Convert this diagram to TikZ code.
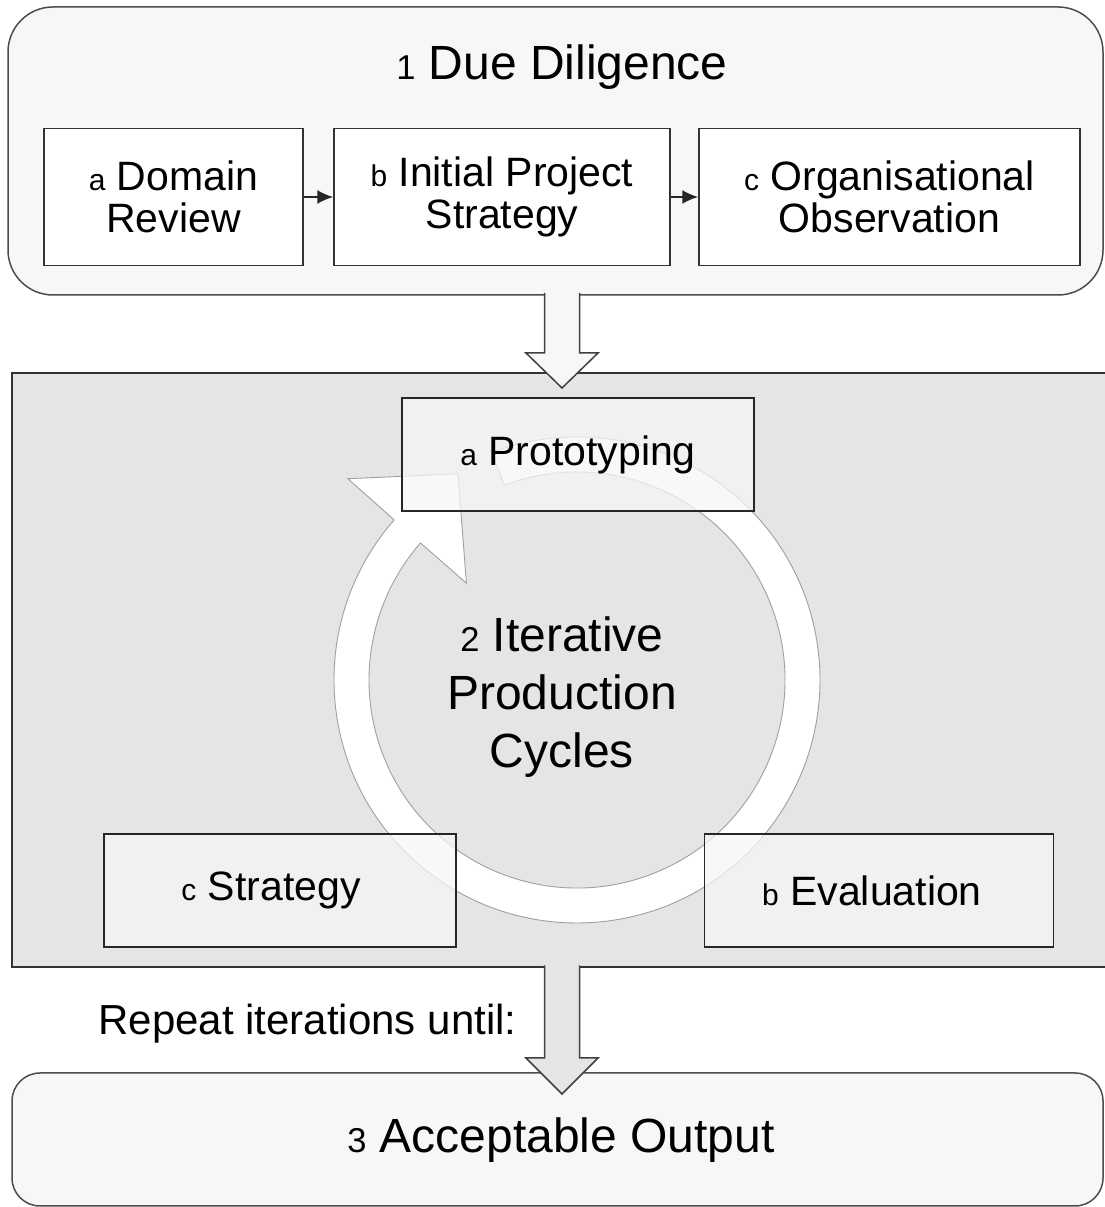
\documentclass[tikz,border=0pt]{standalone}
\usepackage{fontspec}
\setmainfont{Liberation Sans}
\usetikzlibrary{arrows.meta}
\newcommand{\idx}[2]{{\fontsize{#1}{#1}\selectfont #2}}

\begin{document}
\begin{tikzpicture}[x=1pt, y=1pt,
    bigbox/.style={draw=black!70, line width=1.5pt, fill=gray!6, inner sep=0pt},
    subbox/.style={draw=black!80, line width=1.5pt, fill=white, align=center, inner sep=0pt, font=\fontsize{41}{42}\selectfont},
    stagebox/.style={draw=black!85, line width=1.3pt, fill=gray!7, fill opacity=0.75, text opacity=1, align=center, inner sep=0pt, font=\fontsize{41}{42}\selectfont},
    link/.style={-{Latex[length=16pt,width=14pt]}, line width=1.8pt, black!85},
    blockarrow/.style={draw=black!75, line width=1.5pt, line join=miter},
    ring/.style={fill=white, draw=gray!75, line width=0.9pt}]
    \useasboundingbox (0,0) rectangle (1105,1207);
    \clip (0,0) rectangle (1105,1207);
    % 1 due diligence
    \node[bigbox, rounded corners=45pt, minimum width=1095pt, minimum height=288pt] (dd) at (555.5,1056) {};
    \node[anchor=base, font=\fontsize{48}{58}\selectfont] (ddt) at (562,1127) {\idx{34.5}{1} Due Diligence};
    \node[subbox, minimum width=259pt, minimum height=137pt] (dom) at (173.5,1010) {\idx{30}{a} Domain\\Review};
    \node[subbox, minimum width=336pt, minimum height=137pt] (ips) at (502,1010) {\idx{30}{b} Initial Project\\Strategy};
    \node[subbox, minimum width=381pt, minimum height=137pt] (obs) at (889.5,1010) {\idx{30}{c} Organisational\\Observation};
    \draw[link] (dom) -- (ips);
    \draw[link] (ips) -- (obs);
    % 2 iterative production cycles
    \node[draw=black!80, line width=1.5pt, fill=gray!20, minimum width=1100pt, minimum height=594pt, inner sep=0pt] (ipc) at (562,537) {};
    \begin{scope}[shift={(577,527)}]
        \filldraw[ring] (138.8:243) arc[start angle=138.8, end angle=470.5, radius=243]
            -- (110.5:208) arc[start angle=470.5, end angle=138.8, radius=208]
            -- (138.8:147) -- (120:238) -- (138.7:305) -- cycle;
    \end{scope}
    \node[stagebox, minimum width=352pt, minimum height=113pt] (proto) at (578,752.5) {\idx{30}{a} Prototyping};
    \node[stagebox, minimum width=352pt, minimum height=113pt] (strat) at (280,316.5) {\idx{30}{c} Strategy\hspace{18pt}};
    \node[stagebox, minimum width=349pt, minimum height=113pt] (eval) at (879,316.5) {\idx{30}{b} Evaluation\hspace{14pt}};
    \node[font=\fontsize{48}{58}\selectfont, align=center] (ipct) at (562,510) {\idx{34.5}{2} Iterative\\Production\\Cycles};
    \filldraw[blockarrow, fill=gray!6] (544.5,914) -- (544.5,854) -- (526,854) -- (562,819) -- (598,854) -- (579.5,854) -- (579.5,914);
    % 3 acceptable output
    \node[bigbox, rounded corners=28pt, minimum width=1091pt, minimum height=133pt] (acc) at (557.5,67.5) {};
    \node[anchor=base, font=\fontsize{48}{58}\selectfont] (acct) at (561,54) {\idx{34.5}{3} Acceptable Output};
    \filldraw[blockarrow, fill=gray!20] (544.5,241.5) -- (544.5,149) -- (526,149) -- (562,113) -- (598,149) -- (579.5,149) -- (579.5,241.5);
    \node[anchor=base east, font=\fontsize{42}{42}\selectfont] (rep) at (520,172) {Repeat iterations until:};
\end{tikzpicture}
\end{document}
